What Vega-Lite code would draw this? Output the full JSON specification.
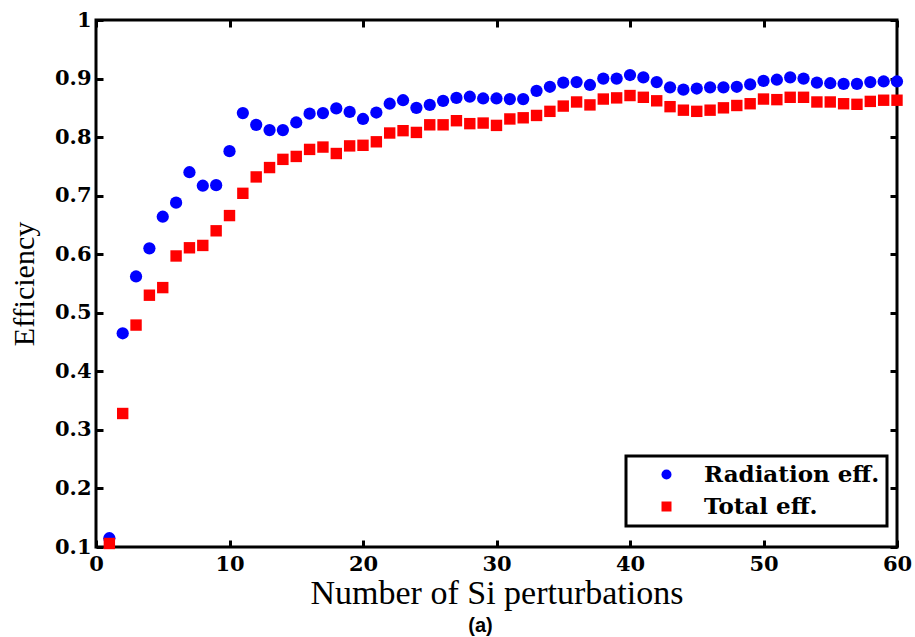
{
  "$schema": "https://vega.github.io/schema/vega-lite/v6.json",
  "width": 801,
  "height": 527,
  "autosize": "none",
  "padding": {"left": 96, "top": 20, "right": 18, "bottom": 90},
  "background": "white",
  "config": {
    "view": {"stroke": "black", "strokeWidth": 3},
    "axis": {
      "grid": false,
      "domain": false,
      "tickSize": -7,
      "tickWidth": 3,
      "tickColor": "black",
      "labelFont": "DejaVu Serif",
      "labelFontWeight": "bold",
      "labelFontSize": 21,
      "labelColor": "black",
      "labelFlush": false,
      "titleFont": "Liberation Serif",
      "titleFontWeight": "normal",
      "titleColor": "black"
    },
    "legend": {
      "orient": "none",
      "legendX": 530,
      "legendY": 436,
      "padding": 7,
      "fillColor": "white",
      "strokeColor": "black",
      "strokeWidth": 3,
      "labelFont": "DejaVu Serif",
      "labelFontWeight": "bold",
      "labelFontSize": 23,
      "labelColor": "black",
      "labelLimit": 400,
      "symbolOffset": 22,
      "labelOffset": 26,
      "rowPadding": 8,
      "symbolStrokeWidth": 0
    }
  },
  "title": {
    "text": "(a)",
    "orient": "bottom",
    "anchor": "middle",
    "font": "Liberation Sans",
    "fontWeight": "bold",
    "fontSize": 20,
    "color": "black",
    "dx": -16,
    "offset": 6
  },
  "data": {
    "values": [
      {"n": 1, "series": "Radiation eff.", "eff": 0.115},
      {"n": 2, "series": "Radiation eff.", "eff": 0.465},
      {"n": 3, "series": "Radiation eff.", "eff": 0.562},
      {"n": 4, "series": "Radiation eff.", "eff": 0.610},
      {"n": 5, "series": "Radiation eff.", "eff": 0.664},
      {"n": 6, "series": "Radiation eff.", "eff": 0.688},
      {"n": 7, "series": "Radiation eff.", "eff": 0.740},
      {"n": 8, "series": "Radiation eff.", "eff": 0.717},
      {"n": 9, "series": "Radiation eff.", "eff": 0.718},
      {"n": 10, "series": "Radiation eff.", "eff": 0.776},
      {"n": 11, "series": "Radiation eff.", "eff": 0.841},
      {"n": 12, "series": "Radiation eff.", "eff": 0.821},
      {"n": 13, "series": "Radiation eff.", "eff": 0.812},
      {"n": 14, "series": "Radiation eff.", "eff": 0.812},
      {"n": 15, "series": "Radiation eff.", "eff": 0.825},
      {"n": 16, "series": "Radiation eff.", "eff": 0.840},
      {"n": 17, "series": "Radiation eff.", "eff": 0.841},
      {"n": 18, "series": "Radiation eff.", "eff": 0.849},
      {"n": 19, "series": "Radiation eff.", "eff": 0.843},
      {"n": 20, "series": "Radiation eff.", "eff": 0.831},
      {"n": 21, "series": "Radiation eff.", "eff": 0.842},
      {"n": 22, "series": "Radiation eff.", "eff": 0.857},
      {"n": 23, "series": "Radiation eff.", "eff": 0.863},
      {"n": 24, "series": "Radiation eff.", "eff": 0.850},
      {"n": 25, "series": "Radiation eff.", "eff": 0.855},
      {"n": 26, "series": "Radiation eff.", "eff": 0.862},
      {"n": 27, "series": "Radiation eff.", "eff": 0.867},
      {"n": 28, "series": "Radiation eff.", "eff": 0.869},
      {"n": 29, "series": "Radiation eff.", "eff": 0.866},
      {"n": 30, "series": "Radiation eff.", "eff": 0.866},
      {"n": 31, "series": "Radiation eff.", "eff": 0.865},
      {"n": 32, "series": "Radiation eff.", "eff": 0.865},
      {"n": 33, "series": "Radiation eff.", "eff": 0.879},
      {"n": 34, "series": "Radiation eff.", "eff": 0.886},
      {"n": 35, "series": "Radiation eff.", "eff": 0.893},
      {"n": 36, "series": "Radiation eff.", "eff": 0.894},
      {"n": 37, "series": "Radiation eff.", "eff": 0.889},
      {"n": 38, "series": "Radiation eff.", "eff": 0.900},
      {"n": 39, "series": "Radiation eff.", "eff": 0.900},
      {"n": 40, "series": "Radiation eff.", "eff": 0.906},
      {"n": 41, "series": "Radiation eff.", "eff": 0.902},
      {"n": 42, "series": "Radiation eff.", "eff": 0.894},
      {"n": 43, "series": "Radiation eff.", "eff": 0.885},
      {"n": 44, "series": "Radiation eff.", "eff": 0.881},
      {"n": 45, "series": "Radiation eff.", "eff": 0.883},
      {"n": 46, "series": "Radiation eff.", "eff": 0.885},
      {"n": 47, "series": "Radiation eff.", "eff": 0.885},
      {"n": 48, "series": "Radiation eff.", "eff": 0.886},
      {"n": 49, "series": "Radiation eff.", "eff": 0.890},
      {"n": 50, "series": "Radiation eff.", "eff": 0.896},
      {"n": 51, "series": "Radiation eff.", "eff": 0.898},
      {"n": 52, "series": "Radiation eff.", "eff": 0.902},
      {"n": 53, "series": "Radiation eff.", "eff": 0.900},
      {"n": 54, "series": "Radiation eff.", "eff": 0.893},
      {"n": 55, "series": "Radiation eff.", "eff": 0.892},
      {"n": 56, "series": "Radiation eff.", "eff": 0.891},
      {"n": 57, "series": "Radiation eff.", "eff": 0.891},
      {"n": 58, "series": "Radiation eff.", "eff": 0.894},
      {"n": 59, "series": "Radiation eff.", "eff": 0.895},
      {"n": 60, "series": "Radiation eff.", "eff": 0.895},
      {"n": 1, "series": "Total eff.", "eff": 0.106},
      {"n": 2, "series": "Total eff.", "eff": 0.328},
      {"n": 3, "series": "Total eff.", "eff": 0.479},
      {"n": 4, "series": "Total eff.", "eff": 0.530},
      {"n": 5, "series": "Total eff.", "eff": 0.543},
      {"n": 6, "series": "Total eff.", "eff": 0.597},
      {"n": 7, "series": "Total eff.", "eff": 0.611},
      {"n": 8, "series": "Total eff.", "eff": 0.615},
      {"n": 9, "series": "Total eff.", "eff": 0.640},
      {"n": 10, "series": "Total eff.", "eff": 0.666},
      {"n": 11, "series": "Total eff.", "eff": 0.704},
      {"n": 12, "series": "Total eff.", "eff": 0.732},
      {"n": 13, "series": "Total eff.", "eff": 0.748},
      {"n": 14, "series": "Total eff.", "eff": 0.762},
      {"n": 15, "series": "Total eff.", "eff": 0.767},
      {"n": 16, "series": "Total eff.", "eff": 0.779},
      {"n": 17, "series": "Total eff.", "eff": 0.783},
      {"n": 18, "series": "Total eff.", "eff": 0.772},
      {"n": 19, "series": "Total eff.", "eff": 0.785},
      {"n": 20, "series": "Total eff.", "eff": 0.786},
      {"n": 21, "series": "Total eff.", "eff": 0.792},
      {"n": 22, "series": "Total eff.", "eff": 0.807},
      {"n": 23, "series": "Total eff.", "eff": 0.811},
      {"n": 24, "series": "Total eff.", "eff": 0.808},
      {"n": 25, "series": "Total eff.", "eff": 0.821},
      {"n": 26, "series": "Total eff.", "eff": 0.821},
      {"n": 27, "series": "Total eff.", "eff": 0.828},
      {"n": 28, "series": "Total eff.", "eff": 0.823},
      {"n": 29, "series": "Total eff.", "eff": 0.824},
      {"n": 30, "series": "Total eff.", "eff": 0.820},
      {"n": 31, "series": "Total eff.", "eff": 0.831},
      {"n": 32, "series": "Total eff.", "eff": 0.833},
      {"n": 33, "series": "Total eff.", "eff": 0.837},
      {"n": 34, "series": "Total eff.", "eff": 0.844},
      {"n": 35, "series": "Total eff.", "eff": 0.853},
      {"n": 36, "series": "Total eff.", "eff": 0.860},
      {"n": 37, "series": "Total eff.", "eff": 0.855},
      {"n": 38, "series": "Total eff.", "eff": 0.865},
      {"n": 39, "series": "Total eff.", "eff": 0.867},
      {"n": 40, "series": "Total eff.", "eff": 0.871},
      {"n": 41, "series": "Total eff.", "eff": 0.868},
      {"n": 42, "series": "Total eff.", "eff": 0.862},
      {"n": 43, "series": "Total eff.", "eff": 0.852},
      {"n": 44, "series": "Total eff.", "eff": 0.846},
      {"n": 45, "series": "Total eff.", "eff": 0.844},
      {"n": 46, "series": "Total eff.", "eff": 0.846},
      {"n": 47, "series": "Total eff.", "eff": 0.850},
      {"n": 48, "series": "Total eff.", "eff": 0.854},
      {"n": 49, "series": "Total eff.", "eff": 0.857},
      {"n": 50, "series": "Total eff.", "eff": 0.865},
      {"n": 51, "series": "Total eff.", "eff": 0.864},
      {"n": 52, "series": "Total eff.", "eff": 0.868},
      {"n": 53, "series": "Total eff.", "eff": 0.868},
      {"n": 54, "series": "Total eff.", "eff": 0.860},
      {"n": 55, "series": "Total eff.", "eff": 0.860},
      {"n": 56, "series": "Total eff.", "eff": 0.857},
      {"n": 57, "series": "Total eff.", "eff": 0.856},
      {"n": 58, "series": "Total eff.", "eff": 0.861},
      {"n": 59, "series": "Total eff.", "eff": 0.863},
      {"n": 60, "series": "Total eff.", "eff": 0.863}
    ]
  },
  "resolve": {"axis": {"x": "independent", "y": "independent"}},
  "layer": [
    {
      "transform": [{"filter": "datum.series === 'Radiation eff.'"}],
      "mark": {"type": "point", "filled": true, "opacity": 1, "size": 150},
      "encoding": {
        "x": {
          "field": "n", "type": "quantitative",
          "scale": {"domain": [0, 60], "nice": false, "zero": false},
          "axis": {
            "orient": "bottom",
            "values": [0, 10, 20, 30, 40, 50, 60],
            "labelPadding": 13,
            "title": "Number of Si perturbations",
            "titleFontSize": 34,
            "titlePadding": 2
          }
        },
        "y": {
          "field": "eff", "type": "quantitative",
          "scale": {"domain": [0.1, 1], "nice": false, "zero": false},
          "axis": {
            "orient": "left",
            "values": [0.1, 0.2, 0.3, 0.4, 0.5, 0.6, 0.7, 0.8, 0.9, 1],
            "format": ".1~f",
            "labelPadding": 12,
            "title": "Efficiency",
            "titleFontSize": 30,
            "titlePadding": 15
          }
        },
        "color": {
          "field": "series", "type": "nominal",
          "scale": {"domain": ["Radiation eff.", "Total eff."], "range": ["#0000ff", "#ff0000"]},
          "legend": {"title": null}
        },
        "shape": {
          "field": "series", "type": "nominal",
          "scale": {"domain": ["Radiation eff.", "Total eff."], "range": ["circle", "square"]},
          "legend": {"title": null}
        }
      }
    },
    {
      "transform": [{"filter": "datum.series === 'Total eff.'"}],
      "mark": {"type": "point", "filled": true, "opacity": 1, "size": 130},
      "encoding": {
        "x": {
          "field": "n", "type": "quantitative",
          "axis": {
            "orient": "top",
            "values": [0, 10, 20, 30, 40, 50, 60],
            "labels": false,
            "title": null
          }
        },
        "y": {
          "field": "eff", "type": "quantitative",
          "axis": {
            "orient": "right",
            "values": [0.1, 0.2, 0.3, 0.4, 0.5, 0.6, 0.7, 0.8, 0.9, 1],
            "labels": false,
            "title": null
          }
        },
        "color": {"field": "series", "type": "nominal"},
        "shape": {"field": "series", "type": "nominal"}
      }
    }
  ]
}
